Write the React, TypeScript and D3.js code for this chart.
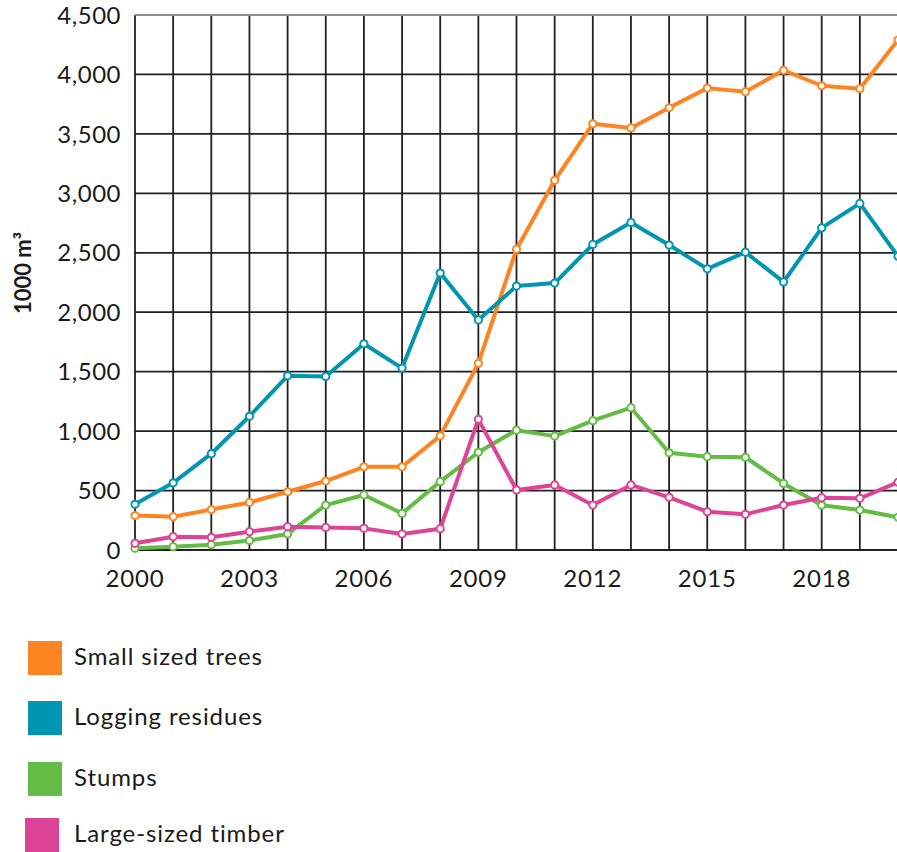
import React, { useRef, useEffect } from "react";
import * as d3 from "d3";

const years = d3.range(2000, 2021);
const smallTrees = [290, 280, 340, 400, 490, 580, 700, 700, 960, 1570, 2530, 3110, 3585, 3550, 3720, 3885, 3855, 4035, 3905, 3880, 4290];
const loggingResidues = [385, 565, 810, 1125, 1465, 1460, 1735, 1530, 2330, 1935, 2220, 2245, 2570, 2755, 2565, 2365, 2505, 2255, 2710, 2915, 2470];
const stumps = [15, 28, 45, 80, 135, 378, 463, 308, 575, 822, 1008, 958, 1088, 1197, 818, 785, 780, 560, 376, 336, 275];
const largeTimber = [56, 112, 107, 154, 196, 190, 182, 135, 179, 1099, 505, 547, 378, 547, 443, 322, 300, 378, 440, 435, 570];

const seriesNames = ["Small sized trees", "Logging residues", "Stumps", "Large-sized timber"];
const seriesColors = ["#fd8420", "#0096b1", "#63bd44", "#dd4498"];
const yTicks = d3.range(0, 4501, 500);
const xLabelYears = [2000, 2003, 2006, 2009, 2012, 2015, 2018];

const width = 897;
const height = 852;
const font = "Lato, 'Open Sans', sans-serif";

const App = () => {
  const svgRef = useRef<SVGSVGElement>(null);

  useEffect(() => {
    const svg = d3.select(svgRef.current);
    svg.selectAll("*").remove();

    const x = d3.scaleLinear().domain([2000, 2020]).range([135, 898]);
    const y = d3.scaleLinear().domain([0, 4500]).range([550, 15]);

    // grid
    const grid = svg.append("g").attr("stroke-width", 1.8);
    years.forEach((yr) => {
      grid
        .append("line")
        .attr("x1", x(yr))
        .attr("x2", x(yr))
        .attr("y1", y(4500))
        .attr("y2", y(0))
        .attr("stroke", "#231f20");
    });
    yTicks.forEach((t) => {
      grid
        .append("line")
        .attr("x1", x(2000))
        .attr("x2", width)
        .attr("y1", y(t))
        .attr("y2", y(t))
        .attr("stroke", t === 4500 ? "#8c8a8a" : "#231f20");
    });

    // y tick labels
    svg
      .append("g")
      .selectAll("text")
      .data(yTicks)
      .join("text")
      .attr("x", 121)
      .attr("y", (d) => y(d))
      .attr("dy", "0.36em")
      .attr("text-anchor", "end")
      .style("font-family", font)
      .style("font-size", "24px")
      .style("letter-spacing", "0.5px")
      .attr("fill", "#1a1a1a")
      .text((d) => d3.format(",")(d));

    // x tick labels
    svg
      .append("g")
      .selectAll("text")
      .data(xLabelYears)
      .join("text")
      .attr("x", (d) => x(d))
      .attr("y", 587)
      .attr("text-anchor", "middle")
      .style("font-family", font)
      .style("font-size", "24px")
      .style("letter-spacing", "0.8px")
      .attr("fill", "#1a1a1a")
      .text((d) => d);

    // y axis title
    svg
      .append("text")
      .attr("transform", "translate(31,273) rotate(-90)")
      .attr("text-anchor", "middle")
      .style("font-family", font)
      .style("font-size", "22px")
      .style("font-weight", "bold")
      .attr("fill", "#1a1a1a")
      .text("1000 m³");

    const allSeries = [smallTrees, loggingResidues, stumps, largeTimber];
    const line = d3
      .line<number>()
      .x((d, i) => x(years[i]))
      .y((d) => y(d));

    allSeries.forEach((values, s) => {
      svg
        .append("path")
        .datum(values)
        .attr("d", line)
        .attr("fill", "none")
        .attr("stroke", seriesColors[s])
        .attr("stroke-width", 4)
        .attr("stroke-linejoin", "round");

      svg
        .append("g")
        .selectAll("circle")
        .data(values)
        .join("circle")
        .attr("cx", (d, i) => x(years[i]))
        .attr("cy", (d) => y(d))
        .attr("r", 3.6)
        .attr("fill", "#fff")
        .attr("stroke", seriesColors[s])
        .attr("stroke-width", 2);
    });

    // legend
    const legendY = [641, 701, 762, 818];
    const legendX = [28, 28, 28, 25];
    seriesNames.forEach((name, i) => {
      svg
        .append("rect")
        .attr("x", legendX[i])
        .attr("y", legendY[i])
        .attr("width", 34)
        .attr("height", 34)
        .attr("fill", seriesColors[i]);
      svg
        .append("text")
        .attr("x", 74)
        .attr("y", legendY[i] + 24)
        .style("font-family", font)
        .style("font-size", "24px")
        .style("letter-spacing", "0.9px")
        .attr("fill", "#1a1a1a")
        .text(name);
    });
  }, []);

  return (
    <svg
      ref={svgRef}
      width={width}
      height={height}
      style={{ position: "absolute", left: 0, top: 0, background: "#fff" }}
    />
  );
};

export default App;
